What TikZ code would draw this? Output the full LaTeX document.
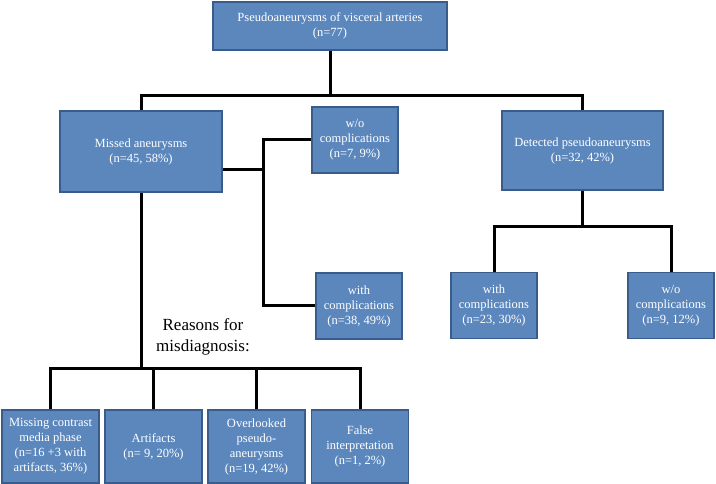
\documentclass[tikz,border=0pt]{standalone}
\usepackage{fontspec}
\setmainfont{Liberation Serif}
\definecolor{boxfill}{RGB}{91,135,189}
\definecolor{boxline}{RGB}{58,92,138}
\tikzset{
  box/.style={draw=boxline, line width=1.5pt, fill=boxfill, text=white, align=center,
    inner sep=0pt, font=\fontsize{12.5}{15}\selectfont},
  smallbox/.style={box, minimum width=86pt, minimum height=66pt},
  reasonbox/.style={box, minimum width=97pt, minimum height=73pt},
  conn/.style={line width=3pt, black},
}
\begin{document}
\begin{tikzpicture}[x=1pt,y=-1pt]
\useasboundingbox (0,0) rectangle (716,484);
% boxes
\node[box, minimum width=234pt, minimum height=48pt] (top) at (330,26) {Pseudoaneurysms of visceral arteries\\(n=77)};
\node[box, minimum width=162pt, minimum height=81pt] (missed) at (141,151.5) {Missed aneurysms\\(n=45, 58\%)};
\node[box, minimum width=161pt, minimum height=79pt] (detected) at (582.5,150.5) {Detected pseudoaneurysms\\(n=32, 42\%)};
\node[smallbox] (wo1) at (355,140) {w/o\\complications\\(n=7, 9\%)};
\node[smallbox] (with1) at (359,306) {with\\complications\\(n=38, 49\%)};
\node[smallbox] (with2) at (494,305.5) {with\\complications\\(n=23, 30\%)};
\node[smallbox] (wo2) at (671,305.5) {w/o\\complications\\(n=9, 12\%)};
\node[reasonbox] (r1) at (50.5,446.5) {Missing contrast\\media phase\\(n=16 +3 with\\artifacts, 36\%)};
\node[reasonbox] (r2) at (153.5,446.5) {Artifacts\\(n= 9, 20\%)};
\node[reasonbox] (r3) at (256.5,446.5) {Overlooked\\pseudo-\\aneurysms\\(n=19, 42\%)};
\node[reasonbox] (r4) at (360,446.5) {False\\interpretation\\(n=1, 2\%)};
\node[align=center, font=\fontsize{17}{21}\selectfont] (why) at (203,337) {Reasons for\\misdiagnosis:};
% connectors
\draw[conn] (top.south) -- ++(0,45) coordinate (j1);
\draw[conn] (missed.north) |- (j1) -| (detected.north);
\draw[conn] (missed.east |- 0,170) -- (263,170) coordinate (j2);
\draw[conn] (wo1.west) -| (j2) |- (with1.west);
\draw[conn] (detected.south) -- ++(0,36) coordinate (j3);
\draw[conn] (with2.north) |- (j3) -| (wo2.north);
\draw[conn] (missed.south) -- ++(0,176) coordinate (j4);
\draw[conn] (r1.north) |- (j4) -| (r4.north);
\draw[conn] (r2.north) -- (r2.north |- j4);
\draw[conn] (r3.north) -- (r3.north |- j4);
\end{tikzpicture}
\end{document}
